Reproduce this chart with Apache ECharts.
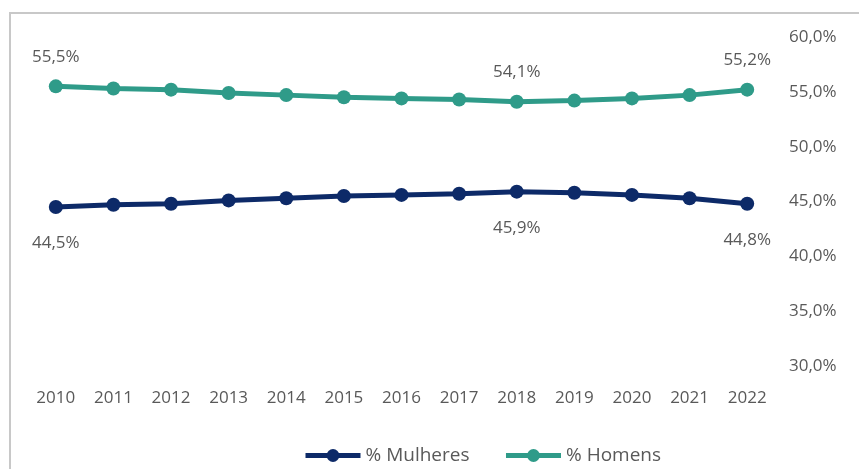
<!DOCTYPE html>
<html>
<head>
<meta charset="utf-8">
<script src="https://cdn.jsdelivr.net/npm/echarts@6/dist/echarts.min.js"></script>
<style>
  html, body { margin: 0; padding: 0; background: #fff; }
  #chart { width: 859px; height: 469px; }
</style>
</head>
<body>
<div id="chart"></div>
<script>
// Participação por sexo, 2010–2022 (%)
const anos = ['2010','2011','2012','2013','2014','2015','2016','2017','2018','2019','2020','2021','2022'];
const mulheres = [44.5, 44.7, 44.8, 45.1, 45.3, 45.5, 45.6, 45.7, 45.9, 45.8, 45.6, 45.3, 44.8];
const homens   = [55.5, 55.3, 55.2, 54.9, 54.7, 54.5, 54.4, 54.3, 54.1, 54.2, 54.4, 54.7, 55.2];
// Anos cujos valores aparecem rotulados
const anosRotulados = ['2010', '2018', '2022'];

const corMulheres = '#0d2a68';
const corHomens = '#2f9b89';
const corTexto = '#595959';
const fonte = '"Open Sans", "Noto Sans", sans-serif';

const fmt = v => v.toFixed(1).replace('.', ',') + '%';

function serie(nome, valores, cor, posicao, distancia) {
  return {
    name: nome,
    type: 'line',
    data: valores.map((v, i) => ({
      value: v,
      label: { show: anosRotulados.includes(anos[i]) }
    })),
    symbol: 'circle',
    symbolSize: 14,
    lineStyle: { width: 5, color: cor },
    itemStyle: { color: cor },
    label: {
      position: posicao,
      distance: distancia,
      color: corTexto,
      fontFamily: fonte,
      fontSize: 17,
      formatter: p => fmt(p.value)
    },
    emphasis: { disabled: true }
  };
}

const chart = echarts.init(document.getElementById('chart'));
chart.setOption({
  animation: false,
  backgroundColor: '#fff',
  graphic: [{
    type: 'rect',
    shape: { x: 10, y: 13, width: 900, height: 500 },
    style: { fill: 'none', stroke: '#c8c8c8', lineWidth: 2 },
    silent: true
  }],
  grid: { left: 27, right: 83, top: 37, bottom: 103 },
  legend: {
    left: 298,
    top: 441,
    itemWidth: 55,
    itemHeight: 16,
    itemGap: 34,
    lineStyle: { width: 5 },
    itemStyle: { borderWidth: 0 },
    textStyle: { color: corTexto, fontFamily: fonte, fontSize: 19 },
    data: ['% Mulheres', '% Homens']
  },
  xAxis: {
    type: 'category',
    data: anos,
    boundaryGap: true,
    axisLine: { show: false },
    axisTick: { show: false },
    axisLabel: { color: corTexto, fontFamily: fonte, fontSize: 17, margin: 24 }
  },
  yAxis: {
    type: 'value',
    position: 'right',
    min: 30,
    max: 60,
    interval: 5,
    splitLine: { show: false },
    axisLine: { show: false },
    axisTick: { show: false },
    axisLabel: {
      color: corTexto, fontFamily: fonte, fontSize: 17, margin: 13,
      formatter: v => v.toFixed(1).replace('.', ',') + '%'
    }
  },
  series: [
    serie('% Mulheres', mulheres, corMulheres, 'bottom', 21),
    serie('% Homens', homens, corHomens, 'top', 14)
  ]
});
</script>
</body>
</html>
